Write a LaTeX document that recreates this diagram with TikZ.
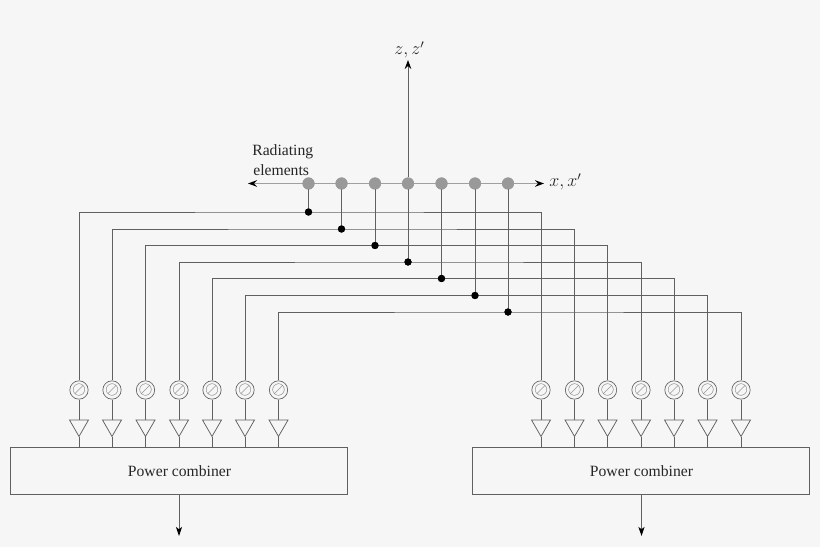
\documentclass[tikz,border=0pt]{standalone}
\usepackage{fontspec}
\setmainfont{Liberation Serif}
\usetikzlibrary{shapes.geometric,arrows.meta}
\definecolor{bgc}{HTML}{F6F6F6}
\definecolor{linec}{HTML}{606060}
\definecolor{elemc}{HTML}{999999}
\definecolor{axisc}{HTML}{A0A0A0}
\tikzset{
  x=0.6667pt,y=-0.6667pt,
  wire/.style={draw=linec,line width=0.55pt},
  axisline/.style={draw=axisc,line width=0.8pt,-{Stealth[length=6pt,width=4.4pt,inset=2pt,black]}},
  zaxis/.style={draw=linec,line width=0.6pt,-{Stealth[length=6pt,width=4.4pt,inset=2pt,black]}},
  outarrow/.style={draw=linec,line width=0.6pt,-{Stealth[length=6pt,width=4pt,inset=1.5pt,black]}},
  element/.style={circle,fill=elemc,minimum size=8pt,inner sep=0pt},
  junction/.style={circle,fill=black,minimum size=4.8pt,inner sep=0pt},
  shifter/.style={circle,draw=linec,line width=0.45pt,minimum size=11pt,inner sep=0pt,text=linec,font=\fontsize{11.5}{14}\selectfont},
  amp/.style={regular polygon,regular polygon sides=3,shape border rotate=180,draw=linec,line width=0.5pt,minimum size=14.6pt,inner sep=0pt},
  combiner/.style={draw=linec,line width=0.5pt,minimum width=224.6pt,minimum height=31.3pt,inner sep=0pt},
  lab/.style={inner sep=0pt,text=black!85,font=\fontsize{10.45}{13}\selectfont},
  mathlab/.style={inner sep=0pt,text=black!85,font=\fontsize{12}{14}\selectfont}
}
\begin{document}
\begin{tikzpicture}
\useasboundingbox[fill=bgc] (0,0) rectangle (820,547);
% combiners
\node[combiner] (pcL) at (179,470.5) {};
\node[combiner] (pcR) at (640.75,470.5) {};
\node[lab] (tL) at (179.5,471.5) {Power combiner};
\node[lab] (tR) at (641.5,471.5) {Power combiner};
\coordinate (outLa) at (179,494);
\coordinate (outRa) at (641.5,494);
\coordinate (outL) at (179,536);
\coordinate (outR) at (641.5,536);
\draw[outarrow] (outLa) -- (outL);
\draw[outarrow] (outRa) -- (outR);
% axes
\coordinate (axL) at (248,183.5);
\coordinate (axR) at (544,183.5);
\coordinate (axT) at (408,60);
\draw[axisline] (308.5,183.5) coordinate (axS) -- (axL);
\draw[axisline] (axS) -- (axR);
% elements, feeds
\foreach \i/\ex/\jy/\lx/\rx in {
 1/308.5/212/79/541,
 2/341.5/229/112/574.5,
 3/375/245.5/145.5/607.5,
 4/408/262/179/641,
 5/441.5/278.5/212/674,
 6/475/295.5/245/707.5,
 7/508/312/278.5/741}{
  \node[shifter] (sL\i) at (\lx,390) {$\oslash$};
  \node[shifter] (sR\i) at (\rx,390) {$\oslash$};
  \node[amp] (aL\i) at (\lx,425.5) {};
  \node[amp] (aR\i) at (\rx,425.5) {};
  \node[junction] (j\i) at (\ex,\jy) {};
  \draw[wire] (sL\i.north) |- (j\i.center) -| (sR\i.north);
  \draw[wire] (sL\i.south) -- (aL\i.north);
  \draw[wire] (sR\i.south) -- (aR\i.north);
  \draw[wire] (aL\i.south) -- (aL\i.south |- pcL.north);
  \draw[wire] (aR\i.south) -- (aR\i.south |- pcR.north);
  \node[element] (e\i) at (\ex,183.5) {};
  \draw[wire] (e\i.center) -- (j\i.center);
  \node[junction] at (j\i) {};
  \node[element] at (e\i) {};
}
\draw[zaxis] (e4.north) -- (axT);
% labels
\node[mathlab] (zl) at (409.5,50) {$z,z'$};
\node[mathlab] (xl) at (565.5,182) {$x,x'$};
\node[lab,anchor=base west] (r1) at (252,156) {Radiating};
\node[lab,anchor=base west] (r2) at (253,175.5) {elements};
\end{tikzpicture}
\end{document}
